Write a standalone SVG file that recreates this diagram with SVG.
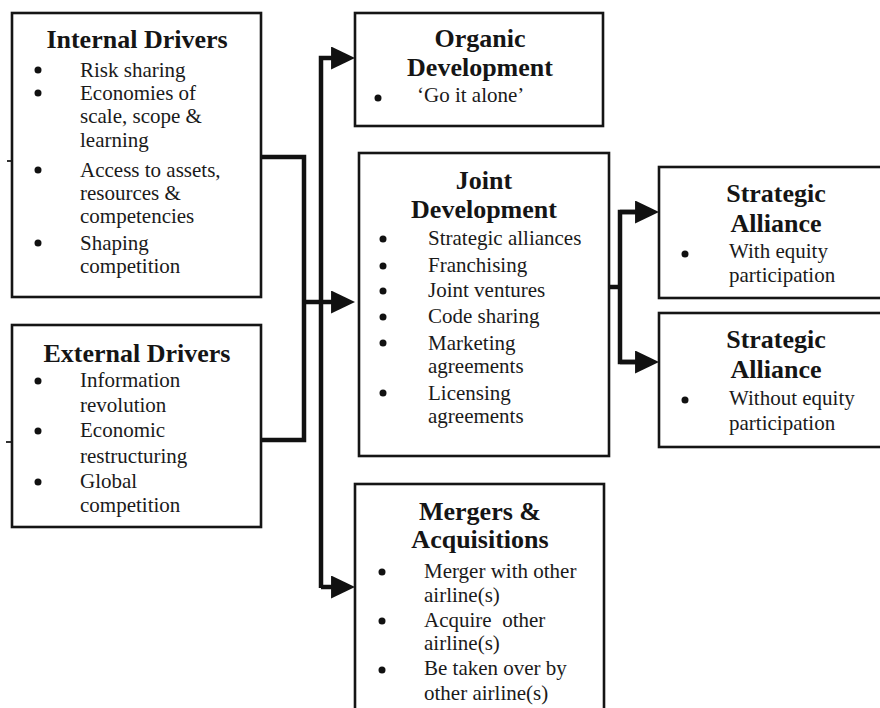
<svg xmlns="http://www.w3.org/2000/svg" width="880" height="708" viewBox="0 0 880 708">
<defs>
<style>
.box{fill:#fff;stroke:#151515;stroke-width:2.6}
.title{font-family:"Liberation Serif","Times New Roman",serif;font-weight:bold;font-size:26px;fill:#151515;text-anchor:middle}
.body{font-family:"Liberation Serif","Times New Roman",serif;font-size:21px;fill:#1a1a1a}
.conn{fill:none;stroke:#111;stroke-width:4.5}
.dot{fill:#111}
</style>
<marker id="arr" viewBox="0 0 10 10" refX="5.8" refY="5" markerWidth="24" markerHeight="23" markerUnits="userSpaceOnUse" orient="auto" preserveAspectRatio="none">
<path d="M0,0 L10,5 L0,10 z" fill="#111"/>
</marker>
</defs>
<rect width="880" height="708" fill="#fff"/>

<g id="connectors">
<polyline class="conn" points="261,157 304,157 304,440 261,440"/>
<line class="conn" x1="304" y1="302" x2="345" y2="302" marker-end="url(#arr)"/>
<polyline class="conn" points="321,588 321,58 345,58" marker-end="url(#arr)"/>
<line class="conn" x1="321" y1="587" x2="345" y2="587" marker-end="url(#arr)"/>
<polyline class="conn" points="609,287 620,287"/>
<polyline class="conn" points="649,212 620,212 620,362 649,362"/>
<line class="conn" x1="620" y1="212" x2="649" y2="212" marker-end="url(#arr)"/>
<line class="conn" x1="620" y1="362" x2="649" y2="362" marker-end="url(#arr)"/>
<line x1="7" y1="161" x2="12" y2="161" stroke="#333" stroke-width="2"/>
<line x1="6" y1="442" x2="12" y2="442" stroke="#333" stroke-width="2"/>
</g>

<g id="internal-drivers">
<rect class="box" x="12" y="13" width="249" height="284"/>
<text class="title" x="137" y="48">Internal Drivers</text>
<circle class="dot" cx="38" cy="70" r="3.5"/>
<circle class="dot" cx="38" cy="93" r="3.5"/>
<circle class="dot" cx="38" cy="170" r="3.5"/>
<circle class="dot" cx="38" cy="243" r="3.5"/>
<text class="body" x="80" y="77">Risk sharing</text>
<text class="body" x="80" y="100">Economies of</text>
<text class="body" x="80" y="123">scale, scope &amp;</text>
<text class="body" x="80" y="147">learning</text>
<text class="body" x="80" y="177">Access to assets,</text>
<text class="body" x="80" y="200">resources &amp;</text>
<text class="body" x="80" y="223">competencies</text>
<text class="body" x="80" y="250">Shaping</text>
<text class="body" x="80" y="273">competition</text>
</g>

<g id="external-drivers">
<rect class="box" x="12" y="325" width="249" height="202"/>
<text class="title" x="137" y="362">External Drivers</text>
<circle class="dot" cx="38" cy="381" r="3.5"/>
<circle class="dot" cx="38" cy="431" r="3.5"/>
<circle class="dot" cx="38" cy="482" r="3.5"/>
<text class="body" x="80" y="387">Information</text>
<text class="body" x="80" y="412">revolution</text>
<text class="body" x="80" y="437">Economic</text>
<text class="body" x="80" y="463">restructuring</text>
<text class="body" x="80" y="488">Global</text>
<text class="body" x="80" y="512">competition</text>
</g>

<g id="organic-development">
<rect class="box" x="355" y="13" width="248" height="113"/>
<text class="title" x="480" y="47">Organic</text>
<text class="title" x="480" y="76">Development</text>
<circle class="dot" cx="378" cy="98" r="3.5"/>
<text class="body" x="417" y="102">‘Go it alone’</text>
</g>

<g id="joint-development">
<rect class="box" x="359" y="153" width="250" height="303"/>
<text class="title" x="484" y="189">Joint</text>
<text class="title" x="484" y="218">Development</text>
<circle class="dot" cx="383" cy="239" r="3.5"/>
<circle class="dot" cx="383" cy="266" r="3.5"/>
<circle class="dot" cx="383" cy="291" r="3.5"/>
<circle class="dot" cx="383" cy="317" r="3.5"/>
<circle class="dot" cx="383" cy="343" r="3.5"/>
<circle class="dot" cx="383" cy="393" r="3.5"/>
<text class="body" x="428" y="245">Strategic alliances</text>
<text class="body" x="428" y="272">Franchising</text>
<text class="body" x="428" y="297">Joint ventures</text>
<text class="body" x="428" y="323">Code sharing</text>
<text class="body" x="428" y="350">Marketing</text>
<text class="body" x="428" y="373">agreements</text>
<text class="body" x="428" y="400">Licensing</text>
<text class="body" x="428" y="423">agreements</text>
</g>

<g id="strategic-alliance-equity">
<rect class="box" x="659" y="167" width="240" height="131"/>
<text class="title" x="776" y="202">Strategic</text>
<text class="title" x="776" y="232">Alliance</text>
<circle class="dot" cx="685" cy="254" r="3.5"/>
<text class="body" x="729" y="258">With equity</text>
<text class="body" x="729" y="282">participation</text>
</g>

<g id="strategic-alliance-no-equity">
<rect class="box" x="659" y="313" width="240" height="134"/>
<text class="title" x="776" y="348">Strategic</text>
<text class="title" x="776" y="378">Alliance</text>
<circle class="dot" cx="685" cy="400" r="3.5"/>
<text class="body" x="729" y="405">Without equity</text>
<text class="body" x="729" y="430">participation</text>
</g>

<g id="mergers-acquisitions">
<rect class="box" x="355" y="484" width="249" height="240"/>
<text class="title" x="480" y="520">Mergers &amp;</text>
<text class="title" x="480" y="548">Acquisitions</text>
<circle class="dot" cx="382" cy="572" r="3.5"/>
<circle class="dot" cx="382" cy="621" r="3.5"/>
<circle class="dot" cx="382" cy="670" r="3.5"/>
<text class="body" x="424" y="578">Merger with other</text>
<text class="body" x="424" y="602">airline(s)</text>
<text class="body" x="424" y="627" xml:space="preserve">Acquire  other</text>
<text class="body" x="424" y="650">airline(s)</text>
<text class="body" x="424" y="675">Be taken over by</text>
<text class="body" x="424" y="700">other airline(s)</text>
</g>
</svg>
